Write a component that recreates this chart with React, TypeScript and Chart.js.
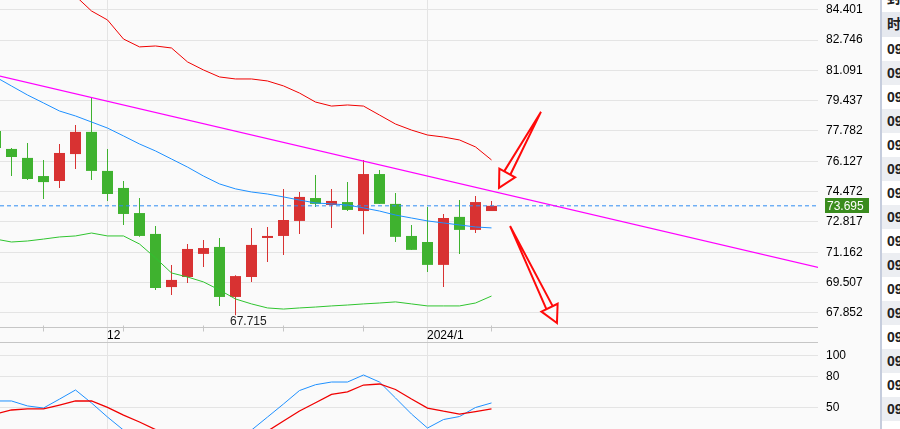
import React, { useEffect, useRef } from "react";
import { Chart, registerables } from "chart.js";

Chart.register(...registerables);

const FONT = '"Liberation Sans", Arial, sans-serif';

// ---------- candles (index 0 .. 31) ----------
const openPrices = [77.78, 76.8, 76.31, 75.32, 75.05, 76.52, 77.73, 75.6, 74.67, 73.3, 72.16, 69.26, 69.81, 71.07, 71.45, 68.72, 69.81, 71.94, 72.05, 72.87, 74.12, 73.74, 73.9, 73.41, 75.43, 73.8, 72.05, 71.72, 70.47, 73.09, 72.38, 73.41];
const highPrices = [77.95, 76.85, 77.12, 76.2, 77.07, 78.11, 79.64, 76.8, 75.05, 74.12, 72.59, 70.47, 71.61, 71.83, 71.94, 69.9, 72.48, 72.54, 74.61, 74.45, 75.38, 74.61, 75.0, 76.2, 75.65, 74.4, 72.65, 73.63, 73.25, 74.01, 74.23, 73.96];
const lowPrices = [76.7, 75.32, 75.11, 74.07, 74.67, 75.7, 75.11, 73.96, 72.65, 72.0, 69.1, 68.83, 69.48, 70.36, 68.23, 67.715, 69.54, 70.63, 71.01, 72.16, 73.63, 72.48, 73.41, 72.14, 73.8, 71.72, 71.29, 70.08, 69.26, 71.07, 72.21, 73.41];
const closePrices = [76.85, 76.36, 75.16, 74.99, 76.58, 77.73, 75.6, 74.34, 73.25, 72.05, 69.21, 69.65, 71.34, 71.39, 68.72, 69.86, 71.56, 72.05, 72.92, 74.18, 73.8, 73.96, 73.47, 75.43, 73.8, 72.0, 71.29, 70.47, 73.03, 72.38, 73.9, 73.695];

// ---------- Bollinger bands ----------
const bollUpper = [88.42, 87.77, 87.11, 86.46, 85.75, 85.15, 84.33, 83.84, 82.8, 82.37, 82.42, 82.31, 81.55, 81.11, 80.73, 80.62, 80.62, 80.51, 80.24, 79.85, 79.36, 79.14, 79.2, 79.14, 78.65, 78.16, 77.83, 77.56, 77.45, 77.29, 76.91, 76.2];
const bollMid = [80.73, 80.235, 79.745, 79.31, 78.87, 78.6, 78.27, 77.94, 77.51, 77.07, 76.69, 76.25, 75.81, 75.32, 74.89, 74.62, 74.45, 74.34, 74.18, 74.01, 73.85, 73.8, 73.74, 73.58, 73.41, 73.19, 73.03, 72.87, 72.76, 72.65, 72.54, 72.49];
const bollLower = [71.88, 71.72, 71.775, 71.88, 71.995, 72.05, 72.21, 72.05, 72.05, 71.61, 70.85, 70.03, 69.81, 69.54, 69.1, 68.61, 68.34, 68.12, 68.06, 68.12, 68.17, 68.23, 68.28, 68.34, 68.39, 68.45, 68.34, 68.23, 68.23, 68.23, 68.39, 68.77];

// ---------- trend line & arrows (data space: index, price) ----------
const trendX = [0, 52];
const trendY = [80.83, 70.21];
const arrowFrom = [[34.09, 78.82], [32.16, 72.59]];
const arrowTo = [[31.47, 74.67], [35.09, 67.3]];

// ---------- axes ----------
const priceTicks = [84.401, 82.746, 81.091, 79.437, 77.782, 76.127, 74.472, 72.817, 71.162, 69.507, 67.852];
const monthTickIndex = [7, 27];
const monthTickLabels = ["12", "2024/1"];
const weekTickIndex = [3, 8, 13, 18, 23, 31];

// ---------- oscillator ----------
const oscFast = [56.1, 56.1, 51.3, 49.3, 57.9, 66.7, 54.2, 40.6, 28.0, 18.0, 10.0, 5.0, 3.0, 4.0, 6.0, 12.0, 28.0, 40.6, 53.2, 66.2, 71.8, 74.4, 74.4, 81.2, 74.4, 59.0, 43.5, 30.0, 38.2, 41.1, 49.8, 54.2];
const oscSlow = [43.5, 47.4, 48.4, 48.4, 52.2, 56.1, 56.1, 50.0, 42.5, 35.8, 28.5, 22.0, 17.0, 13.0, 11.0, 11.0, 15.0, 27.0, 36.8, 46.4, 54.4, 62.4, 64.8, 71.5, 72.5, 67.2, 58.0, 49.3, 46.2, 43.5, 45.9, 48.4];
const oscTicks = [100, 80, 50];

// ---------- side panel ----------
const sideTopText = "封";
const sideHeader = "时";
const sideRows = ["09", "09", "09", "09", "09", "09", "09", "09", "09", "09", "09", "09", "09", "09", "09", "09"];

const X_MIN = 0.28125;
const X_MAX = 51.40625;
const GRID = "#e4e4e4";
const AXIS = "#c6c6c6";
const UP = "#d83232";
const DOWN = "#3fb22f";

const candleColors = openPrices.map((o, i) => (closePrices[i] >= o ? UP : DOWN));
const lastPrice = closePrices[closePrices.length - 1];

function fixY(width: number) {
  return (scale: any) => {
    scale.width = width;
    scale.paddingTop = 0;
    scale.paddingBottom = 0;
  };
}

const upperPlugin = {
  id: "upperDecor",
  beforeDatasetsDraw(chart: any) {
    const { ctx, scales } = chart;
    ctx.save();
    ctx.strokeStyle = GRID;
    ctx.lineWidth = 1;
    monthTickIndex.forEach((i) => {
      const px = Math.floor(scales.x.getPixelForValue(i)) + 0.5;
      ctx.beginPath();
      ctx.moveTo(px, 0);
      ctx.lineTo(px, chart.height);
      ctx.stroke();
    });
    ctx.restore();
  },
  afterDatasetsDraw(chart: any) {
    const { ctx, chartArea, scales } = chart;
    const xs = scales.x;
    const ys = scales.y;
    ctx.save();
    // time axis lines
    ctx.strokeStyle = AXIS;
    ctx.lineWidth = 1;
    const yA = Math.floor(chartArea.bottom) + 0.5;
    const yB = chart.height - 0.5;
    ctx.beginPath();
    ctx.moveTo(chartArea.left, yA);
    ctx.lineTo(chartArea.right, yA);
    ctx.moveTo(chartArea.left, yB);
    ctx.lineTo(chartArea.right, yB);
    ctx.stroke();
    weekTickIndex.forEach((i) => {
      const px = Math.floor(xs.getPixelForValue(i)) + 0.5;
      ctx.beginPath();
      ctx.moveTo(px, yA - 2);
      ctx.lineTo(px, yA + 4);
      ctx.stroke();
    });
    // month labels
    ctx.fillStyle = "#000";
    ctx.font = `12px ${FONT}`;
    ctx.textAlign = "left";
    ctx.textBaseline = "alphabetic";
    monthTickIndex.forEach((i, n) => {
      const px = Math.floor(xs.getPixelForValue(i));
      ctx.fillText(monthTickLabels[n], px, yA + 11.5);
    });
    // lowest low label
    let mi = 0;
    lowPrices.forEach((v, i) => {
      if (v < lowPrices[mi]) mi = i;
    });
    ctx.fillStyle = "#222";
    ctx.fillText(
      lowPrices[mi].toFixed(3),
      xs.getPixelForValue(mi) - 5.5,
      ys.getPixelForValue(lowPrices[mi]) + 10
    );
    // arrows
    ctx.strokeStyle = "#ff0a0a";
    ctx.lineWidth = 2;
    ctx.lineJoin = "miter";
    arrowFrom.forEach((f, n) => {
      const t = arrowTo[n];
      const x1 = xs.getPixelForValue(f[0]);
      const y1 = ys.getPixelForValue(f[1]);
      const x2 = xs.getPixelForValue(t[0]);
      const y2 = ys.getPixelForValue(t[1]);
      const dx = x2 - x1;
      const dy = y2 - y1;
      const len = Math.hypot(dx, dy);
      const ux = dx / len;
      const uy = dy / len;
      const nx = -uy;
      const ny = ux;
      const bx = x2 - ux * 17;
      const by = y2 - uy * 17;
      ctx.beginPath();
      ctx.moveTo(x1, y1);
      ctx.lineTo(bx + nx * 3.5, by + ny * 3.5);
      ctx.moveTo(x1, y1);
      ctx.lineTo(bx - nx * 3.5, by - ny * 3.5);
      ctx.stroke();
      ctx.beginPath();
      ctx.moveTo(x2, y2);
      ctx.lineTo(bx + nx * 9, by + ny * 9);
      ctx.lineTo(bx - nx * 9, by - ny * 9);
      ctx.closePath();
      ctx.stroke();
    });
    // last price box
    const py = ys.getPixelForValue(lastPrice);
    ctx.fillStyle = "#3a8c1e";
    ctx.fillRect(chartArea.right + 7, Math.round(py - 7.5), 44, 15);
    ctx.fillStyle = "#fff";
    ctx.textBaseline = "middle";
    ctx.fillText(lastPrice.toFixed(3), chartArea.right + 9, py + 0.5);
    ctx.restore();
  },
};

const lowerPlugin = {
  id: "lowerDecor",
  beforeDatasetsDraw(chart: any) {
    const { ctx, scales } = chart;
    ctx.save();
    ctx.strokeStyle = GRID;
    ctx.lineWidth = 1;
    monthTickIndex.forEach((i) => {
      const px = Math.floor(scales.x.getPixelForValue(i)) + 0.5;
      ctx.beginPath();
      ctx.moveTo(px, 0);
      ctx.lineTo(px, chart.height);
      ctx.stroke();
    });
    ctx.restore();
  },
};

function line(data: number[], color: string, width: number, order: number, extra: any = {}) {
  return {
    type: "line",
    data: data.map((v, i) => ({ x: i, y: v })),
    borderColor: color,
    borderWidth: width,
    pointRadius: 0,
    tension: 0,
    fill: false,
    order,
    ...extra,
  };
}

function SidePanel() {
  return (
    <div
      style={{
        position: "absolute",
        left: 880,
        top: 0,
        width: 20,
        height: 429,
        background: "#fff",
        borderLeft: "2px solid #c6cddd",
        boxSizing: "border-box",
        overflow: "hidden",
        fontFamily: '"Liberation Sans", Arial, "Noto Sans CJK SC", sans-serif',
        fontSize: 14,
        fontWeight: "bold",
        color: "#222",
        whiteSpace: "nowrap",
      }}
    >
      <div style={{ position: "absolute", left: 5, top: -12, lineHeight: "20px" }}>{sideTopText}</div>
      <div style={{ position: "absolute", left: 0, top: 12, width: 40, height: 25, background: "#e6e9ef" }}>
        <div style={{ position: "absolute", left: 5, top: 0, lineHeight: "25px" }}>{sideHeader}</div>
      </div>
      {sideRows.map((t, i) => (
        <div
          key={i}
          style={{
            position: "absolute",
            left: 0,
            top: 37 + i * 24,
            width: 40,
            height: 24,
            background: i % 2 === 1 ? "#eceef2" : "#fff",
          }}
        >
          <div style={{ position: "absolute", left: 5, top: 0, lineHeight: "24px" }}>{t}</div>
        </div>
      ))}
    </div>
  );
}

export default function App() {
  const topRef = useRef<HTMLCanvasElement>(null);
  const botRef = useRef<HTMLCanvasElement>(null);

  useEffect(() => {
    Chart.defaults.font.family = FONT;
    Chart.defaults.font.size = 12;
    Chart.defaults.color = "#000";

    const c1 = new Chart(topRef.current as HTMLCanvasElement, {
      type: "line",
      data: {
        datasets: [
          line(bollMid, "#1e90ff", 1, 1),
          line(bollUpper, "#f00000", 1, 1),
          line(bollLower, "#2fc42f", 1, 1),
          {
            type: "line",
            data: trendX.map((x, i) => ({ x, y: trendY[i] })),
            borderColor: "#ff00ff",
            borderWidth: 1.3,
            pointRadius: 0,
            fill: false,
            order: 0,
          },
          {
            type: "line",
            data: [
              { x: X_MIN, y: lastPrice },
              { x: X_MAX, y: lastPrice },
            ],
            borderColor: "#2f8cf2",
            borderWidth: 1,
            borderDash: [4, 3],
            pointRadius: 0,
            fill: false,
            order: 0,
          },
          {
            type: "bar",
            data: lowPrices.map((l, i) => ({ x: i, y: [l, highPrices[i]] })),
            backgroundColor: candleColors,
            barThickness: 1,
            grouped: false,
            borderWidth: 0,
            inflateAmount: 0,
            order: 4,
          },
          {
            type: "bar",
            data: openPrices.map((o, i) => ({ x: i, y: [o, closePrices[i]] })),
            backgroundColor: candleColors,
            barThickness: 11,
            grouped: false,
            borderWidth: 0,
            inflateAmount: 0,
            order: 3,
          },
        ] as any,
      },
      options: {
        responsive: false,
        maintainAspectRatio: false,
        animation: false,
        events: [],
        layout: { padding: { top: 0, left: 0, right: 0, bottom: 16 } },
        plugins: { legend: { display: false }, tooltip: { enabled: false } },
        scales: {
          x: {
            type: "linear",
            min: X_MIN,
            max: X_MAX,
            offset: false,
            display: false,
            grid: { offset: false },
          },
          y: {
            type: "linear",
            position: "right",
            min: 67.08,
            max: 84.93,
            afterBuildTicks: (scale: any) => {
              scale.ticks = priceTicks.map((v) => ({ value: v }));
            },
            afterFit: fixY(62),
            ticks: {
              padding: 8,
              color: "#000",
              font: { size: 12, family: FONT },
              callback: (v: any) => Number(v).toFixed(3),
            },
            grid: { color: GRID, drawTicks: false },
            border: { display: false },
          },
        },
      } as any,
      plugins: [upperPlugin],
    });

    const c2 = new Chart(botRef.current as HTMLCanvasElement, {
      type: "line",
      data: {
        datasets: [line(oscFast, "#1e90ff", 1, 1), line(oscSlow, "#f00000", 1.3, 0)] as any,
      },
      options: {
        responsive: false,
        maintainAspectRatio: false,
        animation: false,
        events: [],
        layout: { padding: 0 },
        plugins: { legend: { display: false }, tooltip: { enabled: false } },
        scales: {
          x: { type: "linear", min: X_MIN, max: X_MAX, offset: false, display: false },
          y: {
            type: "linear",
            position: "right",
            min: 29.05,
            max: 112.07,
            afterBuildTicks: (scale: any) => {
              scale.ticks = oscTicks.map((v) => ({ value: v }));
            },
            afterFit: fixY(62),
            ticks: {
              padding: 8,
              color: "#000",
              font: { size: 12, family: FONT },
              callback: (v: any) => String(v),
            },
            grid: { color: GRID, drawTicks: false },
            border: { display: false },
          },
        },
      } as any,
      plugins: [lowerPlugin],
    });

    return () => {
      c1.destroy();
      c2.destroy();
    };
  }, []);

  return (
    <div
      style={{
        position: "fixed",
        left: 0,
        top: 0,
        width: 900,
        height: 429,
        background: "#fafafa",
        overflow: "hidden",
      }}
    >
      <canvas
        ref={topRef}
        width={880}
        height={343}
        style={{ position: "absolute", left: 0, top: 0, width: 880, height: 343 }}
      />
      <canvas
        ref={botRef}
        width={880}
        height={86}
        style={{ position: "absolute", left: 0, top: 343, width: 880, height: 86 }}
      />
      <SidePanel />
    </div>
  );
}
